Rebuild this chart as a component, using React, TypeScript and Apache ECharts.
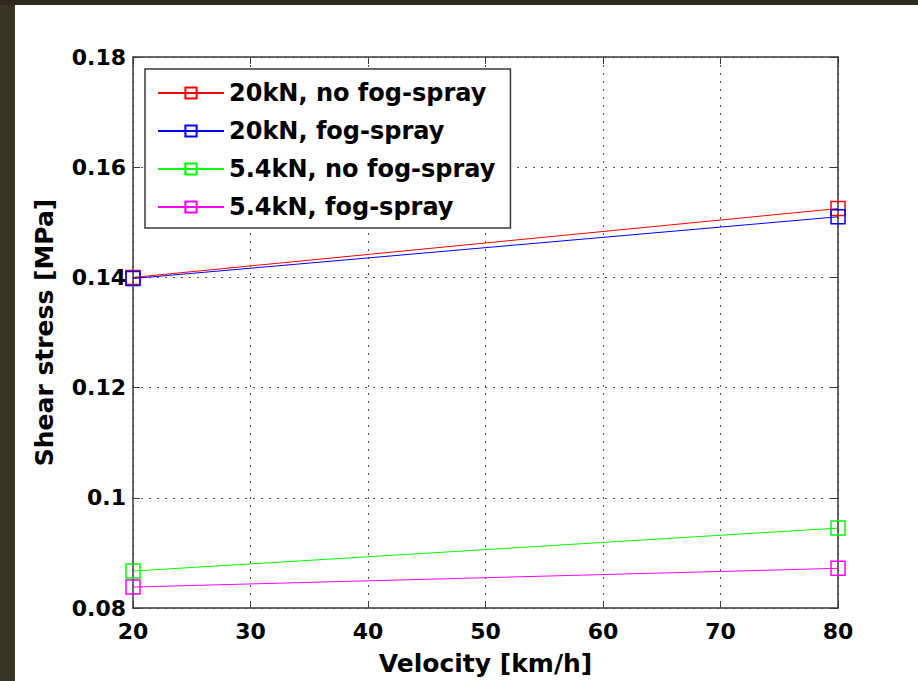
import React, { useEffect, useRef } from "react";
import * as echarts from "echarts";

const velocities = [20, 80];
const red20kNNoFog = [0.14, 0.1525];
const blue20kNFog = [0.1398, 0.151];
const green54kNNoFog = [0.0867, 0.0945];
const magenta54kNFog = [0.0838, 0.0872];
const seriesNames = ["20kN, no fog-spray", "20kN, fog-spray", "5.4kN, no fog-spray", "5.4kN, fog-spray"];
const seriesColors = ["#ff0000", "#0000ff", "#00ff00", "#ff00ff"];
const yTicks = { min: 0.08, max: 0.18, interval: 0.02 };
const xTicks = { min: 20, max: 80, interval: 10 };

const FONT = "DejaVu Sans";

export default function App() {
  const ref = useRef<HTMLDivElement>(null);
  useEffect(() => {
    if (!ref.current) return;
    const chart = echarts.init(ref.current, null, { renderer: "svg" });
    const values = [red20kNNoFog, blue20kNFog, green54kNNoFog, magenta54kNFog];
    const axisLine = { show: true, onZero: false, lineStyle: { color: "#3a3a3a", width: 1.5 } };
    const axisTick = { show: true, inside: true, length: 7, lineStyle: { color: "#3a3a3a", width: 1 } };
    const splitLine = { show: true, lineStyle: { color: "#555", width: 1, type: [2, 6] as any } };
    const labelStyle = { color: "#000", fontFamily: FONT, fontWeight: "bold" as const, fontSize: 22 };
    const fmt = (v: number) => String(parseFloat(v.toFixed(2)));
    chart.setOption({
      animation: false,
      backgroundColor: "#ffffff",
      graphic: [
        { type: "rect", shape: { x: 0, y: 0, width: 15, height: 681 }, style: { fill: "#3a3424" }, z: 100 },
        { type: "rect", shape: { x: 0, y: 0, width: 918, height: 5 }, style: { fill: "#2d291c" }, z: 100 },
      ],
      grid: { left: 133, top: 57, right: 80, bottom: 72, containLabel: false },
      legend: {
        show: true,
        orient: "vertical",
        left: 145,
        top: 69,
        backgroundColor: "#ffffff",
        borderColor: "#3a3a3a",
        borderWidth: 1.5,
        borderRadius: 0,
        padding: [9, 15, 6, 12],
        itemGap: 8,
        itemWidth: 66,
        itemHeight: 14,
        textStyle: { ...labelStyle, fontSize: 24, lineHeight: 30, padding: [0, 0, 0, 0] },
        data: seriesNames,
        z: 10,
      },
      xAxis: [
        {
          type: "value",
          position: "bottom",
          min: xTicks.min,
          max: xTicks.max,
          interval: xTicks.interval,
          name: "Velocity [km/h]",
          nameLocation: "middle",
          nameGap: 43,
          nameTextStyle: { ...labelStyle, fontSize: 25 },
          axisLine,
          axisTick,
          splitLine,
          axisLabel: { ...labelStyle, margin: 12 },
        },
        {
          type: "value",
          position: "top",
          min: xTicks.min,
          max: xTicks.max,
          interval: xTicks.interval,
          axisLine,
          axisTick,
          splitLine: { show: false },
          axisLabel: { show: false },
        },
      ],
      yAxis: [
        {
          type: "value",
          position: "left",
          min: yTicks.min,
          max: yTicks.max,
          interval: yTicks.interval,
          name: "Shear stress [MPa]",
          nameLocation: "middle",
          nameGap: 76,
          nameTextStyle: { ...labelStyle, fontSize: 25 },
          axisLine,
          axisTick,
          splitLine,
          axisLabel: { ...labelStyle, margin: 7, formatter: fmt },
        },
        {
          type: "value",
          position: "right",
          min: yTicks.min,
          max: yTicks.max,
          interval: yTicks.interval,
          axisLine,
          axisTick,
          splitLine: { show: false },
          axisLabel: { show: false },
        },
      ],
      series: seriesNames.map((name, i) => ({
        name,
        type: "line",
        xAxisIndex: 0,
        yAxisIndex: 0,
        data: velocities.map((x, j) => [x, values[i][j]]),
        symbol: "rect",
        symbolSize: 14,
        showSymbol: true,
        lineStyle: { color: seriesColors[i], width: 1 },
        itemStyle: { color: "none", borderColor: seriesColors[i], borderWidth: 1.5 },
        z: 5,
      })),
    });
    return () => chart.dispose();
  }, []);
  return (
    <div
      ref={ref}
      style={{ position: "fixed", left: 0, top: 0, width: 918, height: 681 }}
    />
  );
}
